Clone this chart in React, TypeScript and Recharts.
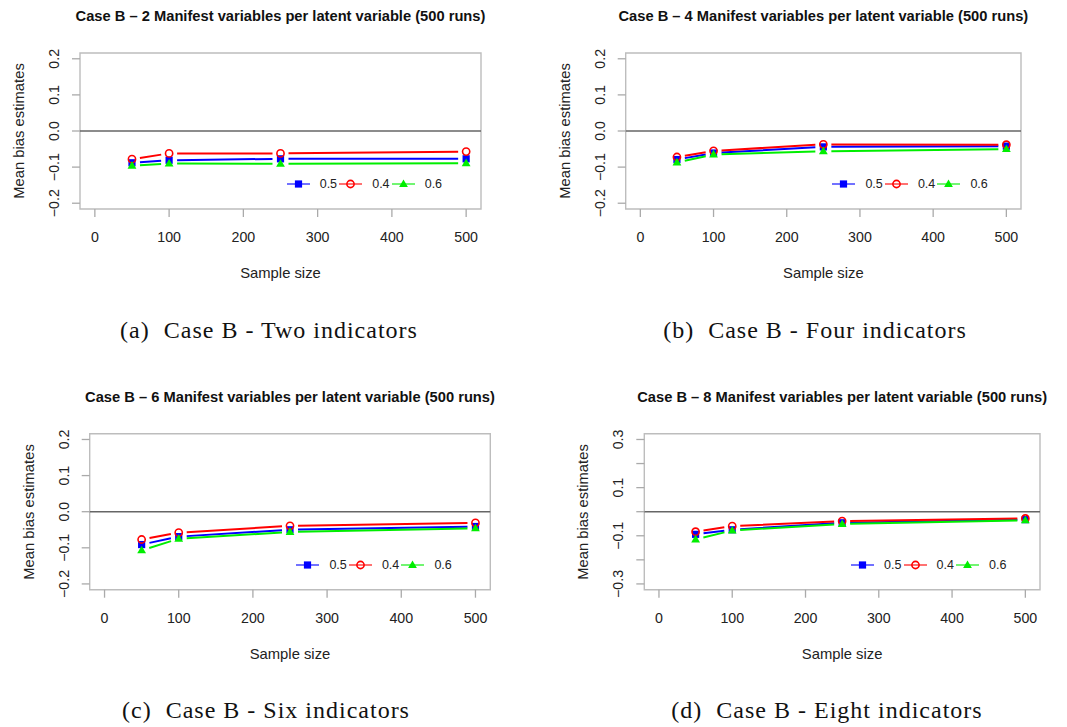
import React from 'react';
import { LineChart, Line, XAxis, YAxis, ReferenceLine, ReferenceArea } from 'recharts';

// sample sizes on the x axis
const sampleSizes = [50, 100, 250, 500];

// mean bias estimates, one array per loading (0.5 / 0.4 / 0.6) and panel
const twoInd05 = [-0.088, -0.081, -0.077, -0.077];
const twoInd04 = [-0.078, -0.062, -0.062, -0.057];
const twoInd06 = [-0.096, -0.090, -0.091, -0.089];

const fourInd05 = [-0.079, -0.061, -0.044, -0.042];
const fourInd04 = [-0.072, -0.055, -0.037, -0.038];
const fourInd06 = [-0.087, -0.065, -0.056, -0.050];

const sixInd05 = [-0.091, -0.069, -0.050, -0.041];
const sixInd04 = [-0.077, -0.058, -0.039, -0.031];
const sixInd06 = [-0.107, -0.075, -0.056, -0.046];

const eightInd05 = [-0.094, -0.075, -0.046, -0.033];
const eightInd04 = [-0.083, -0.060, -0.039, -0.028];
const eightInd06 = [-0.115, -0.078, -0.051, -0.036];

const xTicks = [0, 100, 200, 300, 400, 500];
const yTicksSmall = [-0.2, -0.1, 0, 0.1, 0.2];
const yTicksLarge = [-0.3, -0.2, -0.1, 0, 0.1, 0.2, 0.3];
const yLabelsLarge = [-0.3, -0.1, 0.1, 0.3];

const legendNames = ['0.5', '0.4', '0.6'];

const panels = [
  {
    title: 'Case B \u2013 2 Manifest variables per latent variable (500 runs)',
    caption: '(a)  Case B - Two indicators',
    s05: twoInd05, s04: twoInd04, s06: twoInd06,
    yTicks: yTicksSmall, yLabels: yTicksSmall, yMax: 0.2,
  },
  {
    title: 'Case B \u2013 4 Manifest variables per latent variable (500 runs)',
    caption: '(b)  Case B - Four indicators',
    s05: fourInd05, s04: fourInd04, s06: fourInd06,
    yTicks: yTicksSmall, yLabels: yTicksSmall, yMax: 0.2,
  },
  {
    title: 'Case B \u2013 6 Manifest variables per latent variable (500 runs)',
    caption: '(c)  Case B - Six indicators',
    s05: sixInd05, s04: sixInd04, s06: sixInd06,
    yTicks: yTicksSmall, yLabels: yTicksSmall, yMax: 0.2,
  },
  {
    title: 'Case B \u2013 8 Manifest variables per latent variable (500 runs)',
    caption: '(d)  Case B - Eight indicators',
    s05: eightInd05, s04: eightInd04, s06: eightInd06,
    yTicks: yTicksLarge, yLabels: yLabelsLarge, yMax: 0.3,
  },
];

// page layout: chart origin and plot box (left, top, right, bottom)
const layout = [
  { px: 0, py: 0, box: [80, 53, 481, 209], capX: 269, capY: 330 },
  { px: 533, py: 0, box: [625.7, 53, 1021, 209], capX: 815, capY: 330 },
  { px: 0, py: 380, box: [89.7, 433.7, 490.3, 589.7], capX: 266, capY: 710 },
  { px: 533, py: 380, box: [644.3, 433.7, 1040, 589.7], capX: 827, capY: 710 },
];

const CHART_W = 533;
const CHART_H = 300;
const Y_W = 40;
const X_H = 40;
const GAP = 8;
const SANS = '"Liberation Sans", Arial, Helvetica, sans-serif';
const BLUE = '#0000ff';
const RED = '#ff0000';
const GREEN = '#00ee00';

// R type="b": segments between points, leaving a gap round every point
const gapCurve = (context: any) => {
  let px = 0;
  let py = 0;
  let started = false;
  return {
    areaStart() {},
    areaEnd() {},
    lineStart() {
      started = false;
    },
    lineEnd() {},
    point(x: number, y: number) {
      x = +x;
      y = +y;
      if (started) {
        const dx = x - px;
        const dy = y - py;
        const len = Math.hypot(dx, dy);
        if (len > 2 * GAP) {
          const ux = dx / len;
          const uy = dy / len;
          context.moveTo(px + ux * GAP, py + uy * GAP);
          context.lineTo(x - ux * GAP, y - uy * GAP);
        }
      }
      px = x;
      py = y;
      started = true;
    },
  };
};

const Square = ({ cx, cy }: any) => <rect x={cx - 3.6} y={cy - 3.6} width={7.2} height={7.2} fill={BLUE} />;
const Circle = ({ cx, cy }: any) => <circle cx={cx} cy={cy} r={3.6} fill="none" stroke={RED} strokeWidth={1.6} />;
const Triangle = ({ cx, cy }: any) => (
  <polygon points={`${cx},${cy - 4.6} ${cx + 4.4},${cy + 3} ${cx - 4.4},${cy + 3}`} fill={GREEN} />
);

const fmt = (v: number) => v.toFixed(1).replace('-', '\u2212');

const YTick = ({ x, y, payload, labels }: any) => {
  if (!labels.some((l: number) => Math.abs(l - payload.value) < 1e-9)) return null;
  return (
    <text
      x={x}
      y={y}
      dy="0.35em"
      textAnchor="middle"
      transform={`rotate(-90 ${x} ${y})`}
      fontSize={14.2}
      fontFamily={SANS}
      fill="#222"
    >
      {fmt(payload.value)}
    </text>
  );
};

const XTick = ({ x, y, payload }: any) => (
  <text x={x} y={y} dy="0.35em" textAnchor="middle" fontSize={14.2} fontFamily={SANS} fill="#222">
    {payload.value}
  </text>
);

const LegendRow = ({ left, top }: { left: number; top: number }) => {
  const colors = [BLUE, RED, GREEN];
  const marks = [Square, Circle, Triangle];
  return (
    <div style={{ position: 'absolute', left, top: top - 8, height: 16 }}>
      {legendNames.map((name, i) => {
        const Mark = marks[i];
        return (
          <div key={name} style={{ position: 'absolute', left: i * 52.5, top: 0, height: 16, width: 52 }}>
            <svg width={23} height={16} style={{ position: 'absolute', left: 0, top: 0 }}>
              <line x1={0} y1={8} x2={23} y2={8} stroke={colors[i]} strokeWidth={2} opacity={0.55} />
              <Mark cx={11.5} cy={8} />
            </svg>
            <span
              style={{
                position: 'absolute',
                left: 33,
                top: 0,
                lineHeight: '16px',
                fontSize: 12.5,
                fontFamily: SANS,
                color: '#222',
              }}
            >
              {name}
            </span>
          </div>
        );
      })}
    </div>
  );
};

const Panel = ({ index }: { index: number }) => {
  const p = panels[index];
  const { px, py, box, capX, capY } = layout[index];
  const [bl, bt, br, bb] = box;
  const yPad = p.yMax * 1.08;
  const data = sampleSizes.map((n, i) => ({ n, s05: p.s05[i], s04: p.s04[i], s06: p.s06[i] }));
  const margin = {
    top: bt - py,
    left: bl - px - Y_W,
    right: px + CHART_W - br,
    bottom: py + CHART_H - bb - X_H,
  };
  const boxCx = (bl + br) / 2;
  const boxCy = (bt + bb) / 2;
  return (
    <>
      <div
        style={{
          position: 'absolute',
          left: boxCx - 300,
          width: 600,
          top: bt - 37 - 10,
          lineHeight: '20px',
          textAlign: 'center',
          fontFamily: SANS,
          fontWeight: 'bold',
          fontSize: 14.7,
          color: '#111',
        }}
      >
        {p.title}
      </div>
      <div style={{ position: 'absolute', left: px, top: py }}>
        <LineChart width={CHART_W} height={CHART_H} data={data} margin={margin}>
          <XAxis
            dataKey="n"
            type="number"
            domain={[-20, 520]}
            ticks={xTicks}
            interval={0}
            allowDataOverflow
            height={X_H}
            axisLine={false}
            tickLine={{ stroke: '#aaa', strokeWidth: 1.3 }}
            tickSize={8}
            tickMargin={20}
            tick={<XTick />}
          />
          <YAxis
            type="number"
            domain={[-yPad, yPad]}
            ticks={p.yTicks}
            interval={0}
            allowDataOverflow
            width={Y_W}
            axisLine={false}
            tickLine={{ stroke: '#aaa', strokeWidth: 1.3 }}
            tickSize={8}
            tickMargin={18}
            tick={<YTick labels={p.yLabels} />}
          />
          <ReferenceArea
            x1={-20}
            x2={520}
            y1={-yPad}
            y2={yPad}
            fill="none"
            stroke="#bdbdbd"
            strokeWidth={1.4}
            ifOverflow="visible"
          />
          <ReferenceLine y={0} stroke="#666" strokeWidth={1.6} />
          <Line
            dataKey="s05"
            type={gapCurve as any}
            stroke={BLUE}
            strokeWidth={2}
            dot={(d: any) => <Square key={`b${d.index}`} cx={d.cx} cy={d.cy} />}
            isAnimationActive={false}
          />
          <Line
            dataKey="s04"
            type={gapCurve as any}
            stroke={RED}
            strokeWidth={2}
            dot={(d: any) => <Circle key={`r${d.index}`} cx={d.cx} cy={d.cy} />}
            isAnimationActive={false}
          />
          <Line
            dataKey="s06"
            type={gapCurve as any}
            stroke={GREEN}
            strokeWidth={2}
            dot={(d: any) => <Triangle key={`g${d.index}`} cx={d.cx} cy={d.cy} />}
            isAnimationActive={false}
          />
        </LineChart>
      </div>
      <div
        style={{
          position: 'absolute',
          left: bl - 61 - 100,
          top: boxCy - 9,
          width: 200,
          height: 18,
          lineHeight: '18px',
          textAlign: 'center',
          transform: 'rotate(-90deg)',
          fontFamily: SANS,
          fontSize: 14.8,
          color: '#222',
        }}
      >
        Mean bias estimates
      </div>
      <div
        style={{
          position: 'absolute',
          left: boxCx - 100,
          top: bb + 64 - 9,
          width: 200,
          lineHeight: '18px',
          textAlign: 'center',
          fontFamily: SANS,
          fontSize: 14.8,
          color: '#222',
        }}
      >
        Sample size
      </div>
      <LegendRow left={bl + 206.7} top={bt + 131} />
      <div
        style={{
          position: 'absolute',
          left: capX - 250,
          width: 500,
          top: capY - 14,
          lineHeight: '28px',
          textAlign: 'center',
          whiteSpace: 'pre',
          letterSpacing: 1,
          fontFamily: '"Liberation Serif", "DejaVu Serif", serif',
          fontSize: 24,
          color: '#111',
        }}
      >
        {p.caption}
      </div>
    </>
  );
};

export default function App() {
  return (
    <div
      style={{
        position: 'absolute',
        left: 0,
        top: 0,
        width: 1067,
        height: 727,
        background: '#fff',
        overflow: 'hidden',
      }}
    >
      {panels.map((_, i) => (
        <Panel key={i} index={i} />
      ))}
    </div>
  );
}
